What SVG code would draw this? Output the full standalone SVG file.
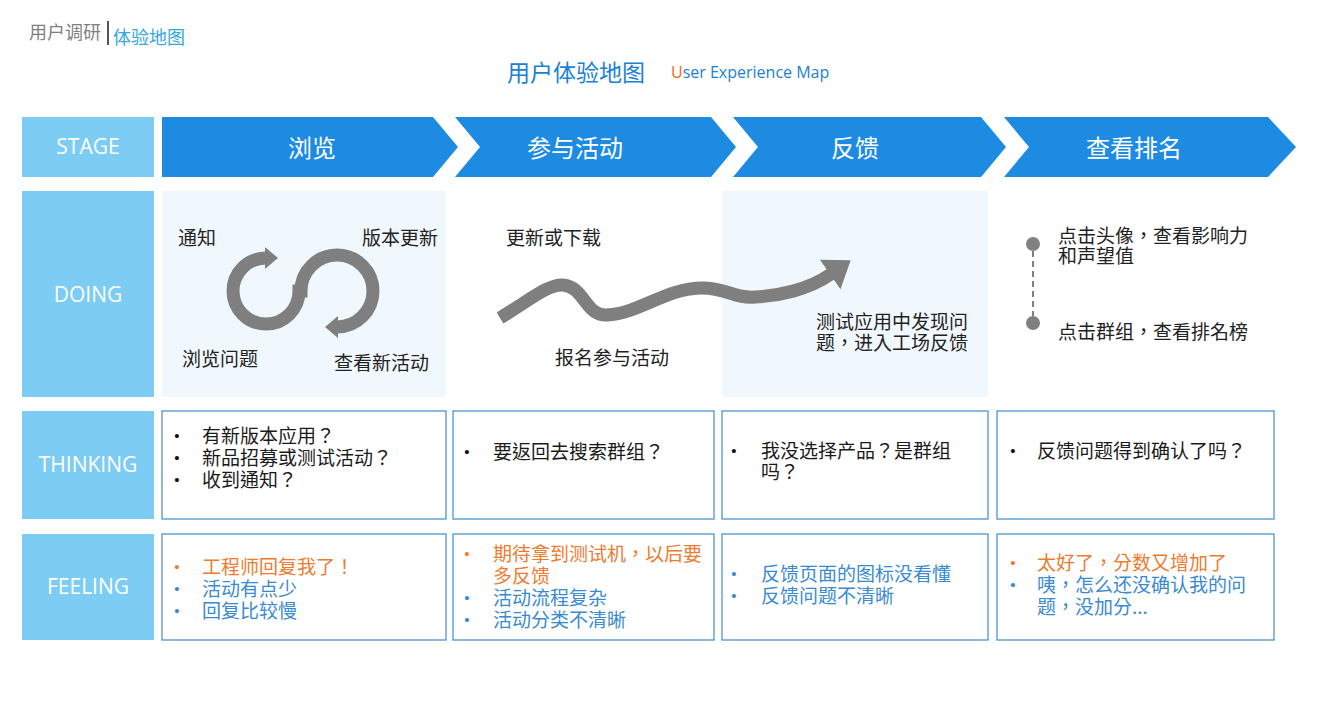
<svg xmlns="http://www.w3.org/2000/svg" width="1323" height="720" viewBox="0 0 1323 720">
<style>
.cjk{font-family:"Noto Sans CJK SC","Noto Sans",sans-serif;}
.lbl{font-family:"Open Sans","Liberation Sans",sans-serif;font-size:21px;fill:#fff;text-anchor:middle;}
.lblbox{fill:#7dccf4;}
.chev{fill:#1e8be3;}
.chevtxt{font-family:"Noto Sans CJK SC",sans-serif;font-size:24px;fill:#fff;text-anchor:middle;}
.panel{fill:#f1f8fd;}
.box{fill:#fff;stroke:#3c8dd0;stroke-width:1.2;}
.t{font-family:"Noto Sans CJK SC",sans-serif;font-size:19px;fill:#1a1a1a;}
.d{font-family:"Noto Sans CJK SC",sans-serif;font-size:19px;fill:#222;}
.p{font-family:"Noto Sans CJK TC","Noto Sans CJK SC",sans-serif;}
.o{fill:#ee7b30;}
.b{fill:#3a8ad0;}
.bul{font-family:"Liberation Sans",sans-serif;font-size:15px;text-anchor:middle;}
.arrow{fill:none;stroke:#7f7f7f;stroke-width:13;}
</style>
<defs>
<marker id="ah" viewBox="0 0 13 22" refX="1" refY="11" markerWidth="13" markerHeight="22" markerUnits="userSpaceOnUse" orient="auto-start-reverse">
<path d="M0,0 L13,11 L0,22 z" fill="#7f7f7f"/>
</marker>
<marker id="ah2" viewBox="0 0 25 36" refX="1" refY="18" markerWidth="25" markerHeight="36" markerUnits="userSpaceOnUse" orient="auto">
<path d="M0,0 L25,18 L0,36 z" fill="#7f7f7f"/>
</marker>
</defs>
<rect width="1323" height="720" fill="#fff"/>

<g id="header">
<text class="cjk" x="29" y="39" font-size="18" fill="#7f7f7f">用户调研</text>
<rect x="107" y="21" width="2" height="24" fill="#555"/>
<text class="cjk" x="113" y="44" font-size="18" fill="#35a7db">体验地图</text>
<text class="cjk" x="507" y="81" font-size="23" fill="#1a82d2">用户体验地图</text>
<text x="671" y="78" font-family="Open Sans, Liberation Sans, sans-serif" font-size="16" fill="#1a82d2"><tspan fill="#f06a0f">U</tspan>ser Experience Map</text>
</g>

<g id="row-labels">
<g id="label-stage"><rect class="lblbox" x="22" y="117" width="132" height="60"/><text class="lbl" x="88" y="154">STAGE</text></g>
<g id="label-doing"><rect class="lblbox" x="22" y="191" width="132" height="206"/><text class="lbl" x="88" y="302">DOING</text></g>
<g id="label-thinking"><rect class="lblbox" x="22" y="411" width="132" height="108"/><text class="lbl" x="88" y="472">THINKING</text></g>
<g id="label-feeling"><rect class="lblbox" x="22" y="534" width="132" height="106"/><text class="lbl" x="88" y="594">FEELING</text></g>
</g>

<g id="stages">
<g id="stage-browse"><polygon class="chev" points="162,117 433,117 458,147 433,177 162,177"/><text class="chevtxt" x="312" y="157">浏览</text></g>
<g id="stage-join"><polygon class="chev" points="455,117 711,117 736,147 711,177 455,177 480,147"/><text class="chevtxt" x="575" y="157">参与活动</text></g>
<g id="stage-feedback"><polygon class="chev" points="733,117 981,117 1006,147 981,177 733,177 758,147"/><text class="chevtxt" x="855" y="157">反馈</text></g>
<g id="stage-rank"><polygon class="chev" points="1004,117 1268,117 1296,147 1268,177 1004,177 1029,147"/><text class="chevtxt" x="1134" y="157">查看排名</text></g>
</g>

<g id="doing">
<rect class="panel" x="162" y="191" width="284" height="206"/>
<rect class="panel" x="722" y="191" width="266" height="206"/>
<g id="doing-browse">
<text class="d" x="178" y="245">通知</text>
<text class="d" x="362" y="245">版本更新</text>
<text class="d" x="182" y="366">浏览问题</text>
<text class="d" x="334" y="370">查看新活动</text>
</g>
<g id="doing-join">
<text class="d" x="506" y="245">更新或下载</text>
<text class="d" x="555" y="365">报名参与活动</text>
</g>
<g id="doing-feedback">
<text class="d" x="816" y="329">测试应用中发现问</text>
<text class="d p" x="816" y="350">题，进入工场反馈</text>
</g>
<g id="doing-rank">
<circle cx="1033" cy="244" r="7" fill="#808080"/>
<circle cx="1033" cy="323" r="7" fill="#808080"/>
<text class="d p" x="1058" y="243">点击头像，查看影响力</text>
<text class="d" x="1058" y="263">和声望值</text>
<text class="d p" x="1058" y="339">点击群组，查看排名榜</text>
</g>
</g>

<g id="connectors">
<path class="arrow" d="M266,258 A33,33 0 1 0 299,291 L301,291 A36,36 0 1 1 337,327" marker-start="url(#ah)" marker-end="url(#ah)"/>
<path class="arrow" d="M500,318 C530,300 548,284 563,285 C585,287 585,316 607,315 C640,313 665,289 700,288 C725,287 735,299 755,297 C778,296 808,290 831,274" marker-end="url(#ah2)"/>
<line x1="1033" y1="251" x2="1033" y2="316" stroke="#808080" stroke-width="2" stroke-dasharray="6,4"/>
</g>

<g id="thinking">
<g id="think-browse"><rect class="box" x="162" y="411" width="284" height="108"/>
<text class="bul" x="177" y="441" fill="#111">•</text><text class="bul" x="177" y="463" fill="#111">•</text><text class="bul" x="177" y="485" fill="#111">•</text>
<text class="t p" x="202" y="443">有新版本应用？</text>
<text class="t p" x="202" y="465">新品招募或测试活动？</text>
<text class="t p" x="202" y="487">收到通知？</text></g>
<g id="think-join"><rect class="box" x="453" y="411" width="261" height="108"/>
<text class="bul" x="467" y="457" fill="#111">•</text>
<text class="t p" x="493" y="459">要返回去搜索群组？</text></g>
<g id="think-feedback"><rect class="box" x="722" y="411" width="266" height="108"/>
<text class="bul" x="734" y="456" fill="#111">•</text>
<text class="t p" x="761" y="458">我没选择产品？是群组</text>
<text class="t p" x="761" y="479">吗？</text></g>
<g id="think-rank"><rect class="box" x="997" y="411" width="277" height="108"/>
<text class="bul" x="1013" y="456" fill="#111">•</text>
<text class="t p" x="1037" y="458">反馈问题得到确认了吗？</text></g>
</g>

<g id="feeling">
<g id="feel-browse"><rect class="box" x="162" y="534" width="284" height="106"/>
<text class="bul o" x="177" y="572">•</text><text class="bul b" x="177" y="594">•</text><text class="bul b" x="177" y="616">•</text>
<text class="t p o" x="202" y="574">工程师回复我了！</text>
<text class="t b" x="202" y="596">活动有点少</text>
<text class="t b" x="202" y="618">回复比较慢</text></g>
<g id="feel-join"><rect class="box" x="453" y="534" width="261" height="106"/>
<text class="bul o" x="467" y="559">•</text><text class="bul b" x="467" y="603">•</text><text class="bul b" x="467" y="625">•</text>
<text class="t p o" x="493" y="561">期待拿到测试机，以后要</text>
<text class="t o" x="493" y="583">多反馈</text>
<text class="t b" x="493" y="605">活动流程复杂</text>
<text class="t b" x="493" y="627">活动分类不清晰</text></g>
<g id="feel-feedback"><rect class="box" x="722" y="534" width="266" height="106"/>
<text class="bul b" x="734" y="579">•</text><text class="bul b" x="734" y="601">•</text>
<text class="t b" x="761" y="581">反馈页面的图标没看懂</text>
<text class="t b" x="761" y="603">反馈问题不清晰</text></g>
<g id="feel-rank"><rect class="box" x="997" y="534" width="277" height="106"/>
<text class="bul o" x="1013" y="568">•</text><text class="bul b" x="1013" y="590">•</text>
<text class="t p o" x="1037" y="570">太好了，分数又增加了</text>
<text class="t p b" x="1037" y="592">咦，怎么还没确认我的问</text>
<text class="t p b" x="1037" y="614">题，没加分...</text></g>
</g>
</svg>
